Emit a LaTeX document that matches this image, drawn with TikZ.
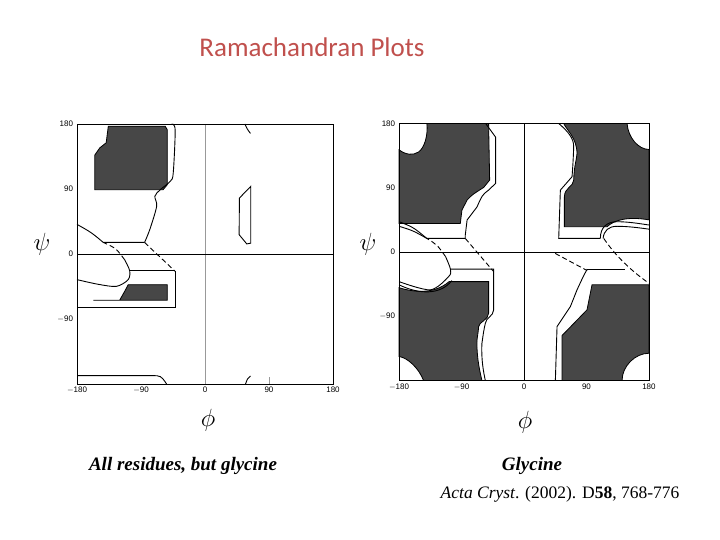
\documentclass[tikz,border=0pt]{standalone}
\usepackage{fontspec}
\setmainfont{Liberation Serif}
\newfontfamily\titlefont{Carlito}
\newfontfamily\tickfont{Liberation Sans}
\definecolor{titlered}{RGB}{192,80,77}
\begin{document}
\begin{tikzpicture}[x=1pt,y=-1pt,
  dark/.style={fill=black!72,draw=black,line width=0.8pt},
  ln/.style={draw=black,line width=0.9pt},
  dsh/.style={draw=black,line width=0.9pt,dash pattern=on 5pt off 3pt},
  tick/.style={font=\tickfont\fontsize{8}{9}\selectfont,inner sep=1pt},
  axlab/.style={font=\fontsize{28}{30}\selectfont},
  captxt/.style={font=\bfseries\itshape\fontsize{19}{21}\selectfont}]
\useasboundingbox (0,0) rectangle (720,540);
\node[font=\titlefont\fontsize{27}{30}\selectfont,text=titlered] (title) at (312,47) {Ramachandran Plots};
% ---------- left plot ----------
\begin{scope}[shift={(205,254)},xscale=0.711,yscale=-0.722]
\draw[dark] (-136,177) -- (-56,177) -- (-53,172) -- (-53,96) -- (-59,89) -- (-155,89) -- (-155,137) -- (-148,147) -- (-139,154) -- cycle;
\draw[dark] (-157,-64) -- (-120,-64) -- (-112,-50) -- (-108,-42.5) -- (-53,-42.5) -- (-53,-64) -- cycle;
\draw[ln] (-180,41) .. controls (-160,30) .. (-143,16) -- (-85,16);
\draw[ln] plot[smooth] coordinates {(-85,16) (-77.6,34) (-68,66) (-70.5,80) (-63,89) (-49,100.6) (-44.7,112) (-42,172) (-47,180)};
\draw[dsh] (-85,16) -- (-42,-24);
\draw[ln] (-42,-24) -- (-42,-74) -- (-180,-74);
\draw[ln] (-106,-23) -- (-42,-23);
\draw[ln] plot[smooth] coordinates {(-180,-35.5) (-150,-42) (-124.5,-44.8) (-108,-35.5) (-106,-23) (-113,-8)};
\draw[dsh] (-113,-8) .. controls (-125,8) .. (-143,16);
\draw[ln] (-180,-168.5) -- (-75,-168.5) .. controls (-62,-168.5) .. (-54,-180);
\draw[ln] (48.4,77.5) -- (64.4,93.7) -- (64.4,15) -- (58.7,14) -- (48,26.8) -- cycle;
\draw[ln] (56,180) .. controls (60,172) .. (64,167);
\draw[ln] (57,-180) .. controls (60,-172) .. (64,-169);
\draw[black!40,line width=0.6pt] (0,-180) -- (0,180);
\draw[black,line width=0.6pt] (-180,0) -- (180,0);
\draw[line width=0.6pt] (-180,-180) rectangle (180,180);
\draw[black!40,line width=0.5pt] (90,-180) -- (90,-170);
\foreach \v/\t in {180/180,90/90,0/0,-90/{$-$90}} \node[tick,anchor=east] at (-184,\v) {\t};
\foreach \v/\t in {-180/{$-$180},-90/{$-$90},0/0,90/90,180/180} \node[tick,anchor=north] at (\v,-183) {\t};
\end{scope}
% ---------- right plot ----------
\begin{scope}[shift={(524,252)},xscale=0.694,yscale=-0.714]
\draw[dark] (-140,180) -- (-51,180) -- (-49.5,100.7) -- (-58,90.5) .. controls (-75,80) .. (-82,72.7) -- (-89.4,58.8) -- (-91.8,40) -- (-180,40) -- (-180,143) .. controls (-170,136) and (-160,135) .. (-152,140) .. controls (-143,146) and (-138,165) .. (-140,180);
\draw[dark] (-180,-50) .. controls (-160,-56) and (-130,-60) .. (-108,-41.5) -- (-51,-41.5) -- (-51,-85.8) .. controls (-51,-95) and (-65,-98) .. (-65.4,-104.5) .. controls (-66,-115) and (-68,-120) .. (-67.8,-127.8) .. controls (-68,-150) and (-63,-170) .. (-60.6,-180) -- (-144.7,-180) .. controls (-152,-162) and (-168,-148) .. (-180,-146.4) -- cycle;
\draw[dark] (57.2,180) -- (148.5,180) .. controls (150,160) and (165,143.6) .. (180,143.6) -- (180,45) .. controls (150,50) and (130,45) .. (119.7,35.4) -- (58.2,35.4) -- (58.2,77.4) .. controls (58.2,90) and (71.6,92) .. (71.6,100.7) .. controls (72,120) and (76,130) .. (76.4,138) .. controls (76,160) and (62,170) .. (57.2,180);
\draw[dark] (98,-46) -- (180,-46) -- (180,-141.8) .. controls (160,-141.8) and (141.3,-160) .. (141.3,-180) -- (54.8,-180) -- (54.8,-117) -- (90.8,-81) -- cycle;
\draw[ln] (-55.3,180) -- (-41,161) -- (-41,96) -- (-51,86.7) .. controls (-60,80) .. (-67.8,63) -- (-82,44.8) -- (-84.6,23.8) -- (-84.6,19) -- (-140,19);
\draw[ln] (-180,42.4) .. controls (-160,35) .. (-140,19);
\draw[ln] (-180,36) .. controls (-160,30) .. (-140,19);
\draw[dsh] (-84.6,19) -- (-43.7,-27.5);
\draw[ln] plot[smooth] coordinates {(-180,-41.5) (-135,-53) (-108.6,-34.5) (-106,-24) (-113,-6.5)};
\draw[ln] (-180,-46) .. controls (-150,-60) and (-120,-60) .. (-104,-40);
\draw[dsh] (-113,-6.5) .. controls (-125,10) .. (-140,19);
\draw[ln] (-106,-24) -- (-43.7,-24) -- (-43.7,-81) .. controls (-44,-90) and (-55,-92) .. (-55.7,-99.8) .. controls (-58,-110) .. (-60.6,-127.8) .. controls (-62,-150) and (-58,-170) .. (-55.7,-180);
\draw[ln] (50,180) .. controls (62,170) and (72,160) .. (71.6,147) .. controls (71,130) and (70,115) .. (69.2,105.4) -- (52.4,86.7) -- (50,19) -- (110,19);
\draw[ln] (110,19) .. controls (110,35) and (120,42.4) .. (134,42.4) .. controls (150,42.4) and (165,40) .. (180,37.8);
\draw[ln] (114,19) .. controls (115,30) and (122,36) .. (134,36) .. controls (150,36) and (165,34) .. (180,32);
\draw[dsh] (114.9,19) .. controls (135,-10) and (160,-30) .. (180,-43.8);
\draw[dsh] (45,-2) -- (91,-26);
\draw[ln] (91,-24) -- (145,-24);
\draw[ln] (91,-24) .. controls (85,-35) .. (76.4,-53) -- (66.8,-76.5) -- (47.6,-104.5) -- (45.2,-180);
\draw[black,line width=0.6pt] (0,-180) -- (0,180);
\draw[black,line width=0.6pt] (-180,0) -- (180,0);
\draw[line width=0.6pt] (-180,-180) rectangle (180,180);
\foreach \v/\t in {180/180,90/90,0/0,-90/{$-$90}} \node[tick,anchor=east] at (-184,\v) {\t};
\foreach \v/\t in {-180/{$-$180},-90/{$-$90},0/0,90/90,180/180} \node[tick,anchor=north] at (\v,-183) {\t};
\end{scope}
\node[axlab] (psiL) at (42,244) {$\psi$};
\node[axlab] (psiR) at (368,244) {$\psi$};
\node[axlab] (phiL) at (208,420) {$\phi$};
\node[axlab] (phiR) at (525,422) {$\phi$};
\node[captxt] (capL) at (183,466) {All residues, but glycine};
\node[captxt] (capR) at (532,466) {Glycine};
\node[font=\fontsize{17.5}{20}\selectfont] (ref) at (560,494) {\textit{Acta Cryst}. (2002). D\textbf{58}, 768-776};
\end{tikzpicture}
\end{document}
